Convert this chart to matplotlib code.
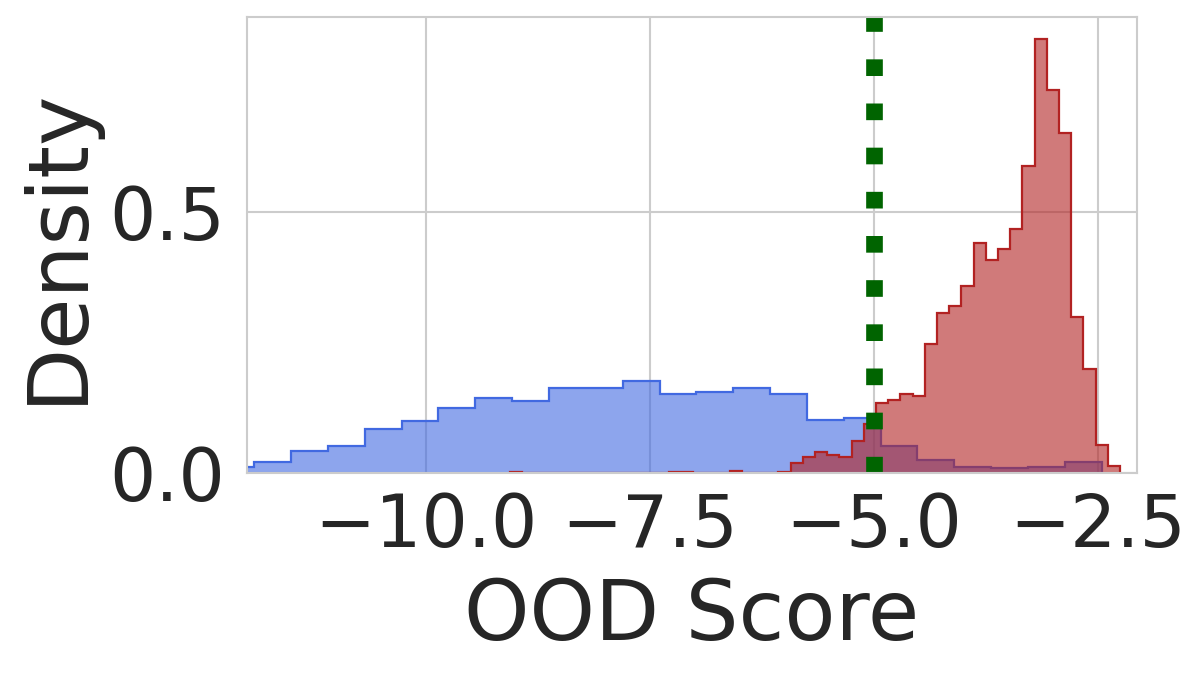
import numpy as np
import matplotlib
matplotlib.use("Agg")
import matplotlib.pyplot as plt

# ---- data ----
# In-distribution scores (blue), density per bin
blue_bin_start, blue_bin_end = -12.331, -2.459
blue_density = [0.012, 0.022, 0.042, 0.051, 0.084, 0.099, 0.125, 0.144,
                0.137, 0.162, 0.162, 0.177, 0.152, 0.155, 0.163, 0.152,
                0.1015, 0.105, 0.052, 0.025, 0.012, 0.009, 0.012, 0.021]

# OOD scores (red), density per bin
red_bin_start, red_bin_end = -9.0625, -2.2545
red_density = [0.002, 0, 0, 0, 0, 0, 0, 0, 0, 0,
               0, 0, 0, 0.0025, 0.0025, 0, 0, 0, 0.0045, 0,
               0, 0, 0.0013, 0.0185, 0.031, 0.040, 0.0345, 0.031, 0.061, 0.093,
               0.1347, 0.140, 0.151, 0.148, 0.247, 0.306, 0.3206, 0.358, 0.440, 0.408,
               0.4285, 0.467, 0.589, 0.831, 0.734, 0.651, 0.2995, 0.1987, 0.0536, 0.014]

threshold = -5.0
x_ticks = [-10.0, -7.5, -5.0, -2.5]
y_ticks = [0.0, 0.5]
x_label = "OOD Score"
y_label = "Density"

blue_edges = np.linspace(blue_bin_start, blue_bin_end, len(blue_density) + 1)
red_edges = np.linspace(red_bin_start, red_bin_end, len(red_density) + 1)

text_color = "#262626"
fig = plt.figure(figsize=(12, 6.76), dpi=100)
ax = fig.add_axes([0.2058, 0.3003, 0.7417, 0.6746])
ax.set_facecolor("white")
ax.set_axisbelow(True)
ax.grid(True, color="#cccccc", linewidth=1.5)
for sp in ax.spines.values():
    sp.set_color("#cccccc")
    sp.set_linewidth(1.5)

blue = "#4169E1"
red = "#B22222"
ax.stairs(blue_density, blue_edges, fill=True, color=blue, alpha=0.6, linewidth=0)
ax.stairs(blue_density, blue_edges, fill=False, color=blue, linewidth=1.6)
ax.stairs(red_density, red_edges, fill=True, color=red, alpha=0.6, linewidth=0)
ax.stairs(red_density, red_edges, fill=False, color=red, linewidth=1.6)

ax.axvline(threshold, color="#006400", linestyle=":", linewidth=12)

ax.set_xlim(-12.0, -2.065)
ax.set_ylim(0, 0.8736)
ax.set_xticks(x_ticks)
ax.set_yticks(y_ticks)
ax.set_xticklabels([f"{t:.1f}".replace("-", "\u2212") for t in x_ticks])
ax.set_yticklabels([f"{t:.1f}" for t in y_ticks])
ax.tick_params(axis="both", length=0, labelsize=52.5, labelcolor=text_color)
ax.tick_params(axis="x", pad=13)
ax.tick_params(axis="y", pad=16)
ax.set_xlabel(x_label, fontsize=60, color=text_color, labelpad=10)
ax.set_ylabel(y_label, fontsize=60, color=text_color, labelpad=8)

fig.savefig("out.png", dpi=100)
